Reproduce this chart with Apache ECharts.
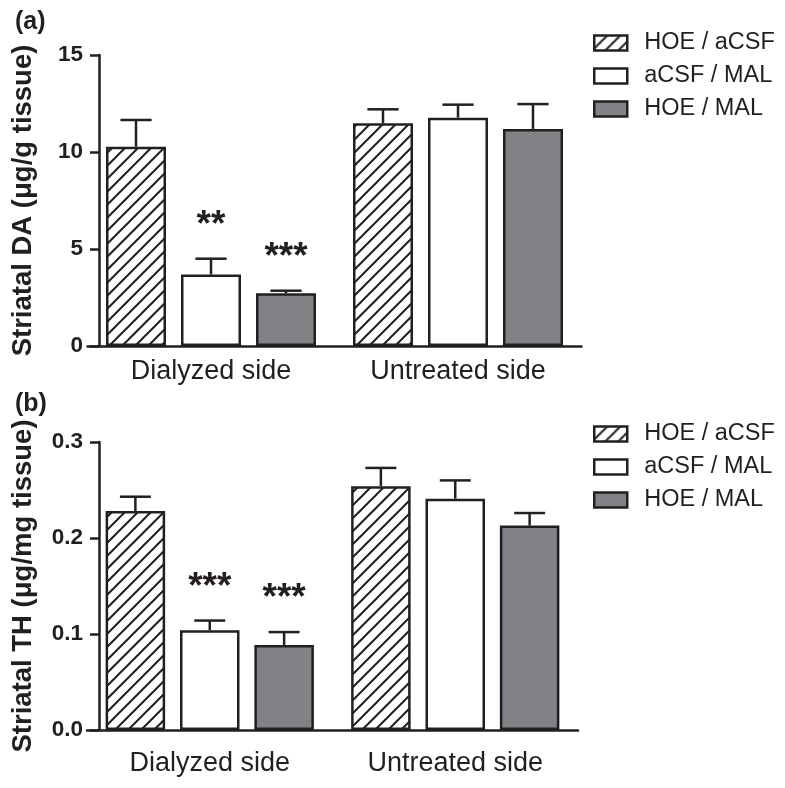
<!DOCTYPE html>
<html>
<head>
<meta charset="utf-8">
<script src="https://cdn.jsdelivr.net/npm/echarts@6/dist/echarts.min.js"></script>
<style>html,body{margin:0;padding:0;background:#fff}#c{width:785px;height:788px}</style>
</head>
<body>
<div id="c"></div>
<script>
// ---- data ----
const categories = ['Dialyzed side', 'Untreated side'];
const groupNames = ['HOE / aCSF', 'aCSF / MAL', 'HOE / MAL'];
// Panel (a) Striatal DA (µg/g tissue): mean and SEM per group, [dialyzed, untreated]
const daHOEaCSF = [10.27, 11.48];
const daaCSFMAL = [3.69, 11.77];
const daHOEMAL = [2.72, 11.19];
const daSemHOEaCSF = [1.38, 0.72];
const daSemaCSFMAL = [0.81, 0.67];
const daSemHOEMAL = [0.13, 1.28];
const daSig = [['', ''], ['**', ''], ['***', '']];
// Panel (b) Striatal TH (µg/mg tissue)
const thHOEaCSF = [0.228, 0.254];
const thaCSFMAL = [0.104, 0.241];
const thHOEMAL = [0.0885, 0.213];
const thSemHOEaCSF = [0.015, 0.019];
const thSemaCSFMAL = [0.010, 0.019];
const thSemHOEMAL = [0.0135, 0.013];
const thSig = [['', ''], ['***', ''], ['***', '']];
const daTicks = { min: 0, max: 15, interval: 5 };
const thTicks = { min: 0, max: 0.3, interval: 0.1 };

// ---- styles ----
const INK = '#231f20';
const GRAY = '#808285';
const FONT = '"Liberation Sans", Arial, Helvetica, sans-serif';

function makeHatch() {
  const s = 13;
  const c = document.createElement('canvas');
  c.width = s; c.height = s;
  const g = c.getContext('2d');
  g.fillStyle = '#ffffff'; g.fillRect(0, 0, s, s);
  g.strokeStyle = INK; g.lineWidth = 2; g.lineCap = 'square';
  g.beginPath();
  g.moveTo(-2, s + 2); g.lineTo(s + 2, -2);
  g.moveTo(-2, 2); g.lineTo(2, -2);
  g.moveTo(s - 2, s + 2); g.lineTo(s + 2, s - 2);
  g.stroke();
  return c;
}
const hatch = { image: makeHatch(), repeat: 'repeat' };
const fills = [hatch, '#ffffff', GRAY];

const panels = [
  { means: [daHOEaCSF, daaCSFMAL, daHOEMAL], sems: [daSemHOEaCSF, daSemaCSFMAL, daSemHOEMAL], sig: daSig,
    ticks: daTicks, name: 'Striatal DA (\u03bcg/g tissue)', barW: 60, fmt: v => String(v),
    grid: { left: 87.5, top: 55, width: 494, height: 291 }, yOffset: -11.5, labelMargin: 12, legendTop: 31, title: '(a)', titleTop: 10 },
  { means: [thHOEaCSF, thaCSFMAL, thHOEMAL], sems: [thSemHOEaCSF, thSemaCSFMAL, thSemHOEMAL], sig: thSig,
    ticks: thTicks, name: 'Striatal TH (\u03bcg/mg tissue)', barW: 59.5, fmt: v => v.toFixed(1),
    grid: { left: 87, top: 442, width: 491, height: 288 }, yOffset: -12, labelMargin: 20, legendTop: 422, title: '(b)', titleTop: 392 }
];

const BAR_GAP = 0.25;
const option = {
  animation: false,
  backgroundColor: '#ffffff',
  title: panels.map(p => ({ text: p.title, left: 15, top: p.titleTop, padding: 0,
    textStyle: { fontFamily: FONT, fontWeight: 'bold', fontSize: 25, color: INK } })),
  legend: panels.map(p => ({
    orient: 'vertical', left: 593, top: p.legendTop, padding: 0,
    itemWidth: 33, itemHeight: 15, itemGap: 9, selectedMode: false,
    textStyle: { fontFamily: FONT, fontSize: 23.5, lineHeight: 24, color: INK, padding: [0, 0, 0, 12] },
    data: groupNames.map((n, i) => ({ name: n, icon: 'rect',
      itemStyle: { color: fills[i], borderColor: INK, borderWidth: 2.5 } }))
  })),
  grid: panels.map(p => p.grid),
  xAxis: panels.map((p, k) => ({
    type: 'category', gridIndex: k, data: categories,
    axisLine: { lineStyle: { color: INK, width: 2.5 } },
    axisTick: { show: false },
    axisLabel: { fontFamily: FONT, fontSize: 27, color: INK, margin: p.labelMargin }
  })),
  yAxis: panels.map((p, k) => ({
    type: 'value', gridIndex: k, min: p.ticks.min, max: p.ticks.max, interval: p.ticks.interval,
    offset: p.yOffset,
    axisLine: { show: true, lineStyle: { color: INK, width: 2.5 } },
    axisTick: { show: true, length: 9, lineStyle: { color: INK, width: 2.5 } },
    axisLabel: { fontFamily: FONT, fontSize: 22.5, fontWeight: 'bold', color: INK, margin: 16, formatter: p.fmt },
    splitLine: { show: false },
    name: p.name, nameLocation: 'middle', nameRotate: 90, nameGap: 62,
    nameTextStyle: { fontFamily: FONT, fontSize: 27.5, fontWeight: 'bold', color: INK }
  })),
  series: []
};

panels.forEach((p, k) => {
  groupNames.forEach((n, i) => {
    option.series.push({
      type: 'bar', name: n, xAxisIndex: k, yAxisIndex: k,
      data: p.means[i], barWidth: p.barW, barGap: (BAR_GAP * 100) + '%',
      itemStyle: { color: fills[i], borderColor: INK, borderWidth: 2.5 },
      emphasis: { disabled: true }
    });
  });
  const errData = [];
  const sigLookup = [];
  groupNames.forEach((n, i) => {
    categories.forEach((c, j) => {
      errData.push([j, i, p.means[i][j], p.sems[i][j]]);
      sigLookup.push(p.sig[i][j]);
    });
  });
  option.series.push({
    type: 'custom', xAxisIndex: k, yAxisIndex: k, z: 5, silent: true,
    data: errData,
    renderItem: function (params, api) {
      const cat = api.value(0), si = api.value(1), mean = api.value(2), sem = api.value(3);
      const base = api.coord([cat, mean]);
      const top = api.coord([cat, mean + sem]);
      const x = base[0] + (si - 1) * p.barW * (1 + BAR_GAP);
      const cap = p.barW * 0.52;
      const st = { stroke: INK, lineWidth: 2.5 };
      const children = [
        { type: 'line', shape: { x1: x, y1: base[1], x2: x, y2: top[1] }, style: st },
        { type: 'line', shape: { x1: x - cap / 2, y1: top[1], x2: x + cap / 2, y2: top[1] }, style: st }
      ];
      const s = sigLookup[params.dataIndex];
      if (s) {
        children.push({ type: 'text', x: x, y: top[1] - 33,
          style: { text: s, fill: INK, font: 'bold 37px ' + FONT, align: 'center', verticalAlign: 'middle' } });
      }
      return { type: 'group', children: children };
    }
  });
});

const chart = echarts.init(document.getElementById('c'), null, { renderer: 'canvas' });
chart.setOption(option);
</script>
</body>
</html>
